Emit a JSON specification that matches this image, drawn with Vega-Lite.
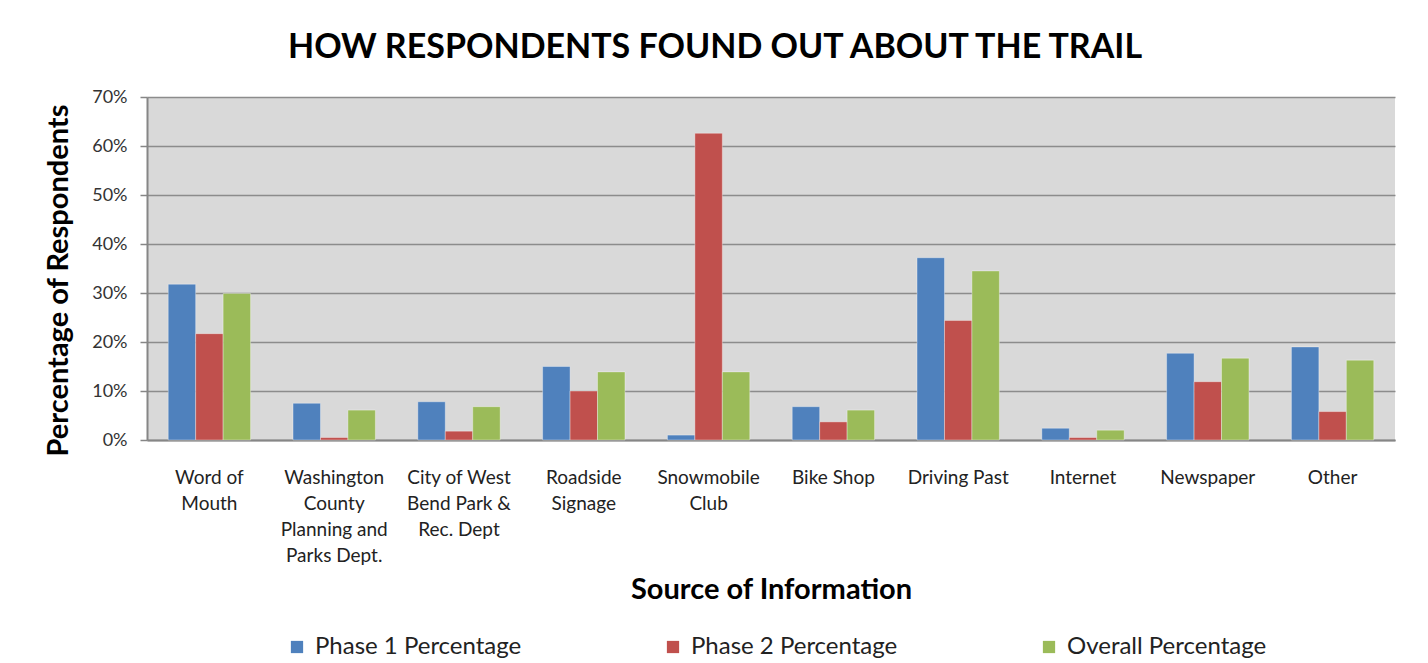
{
  "$schema": "https://vega.github.io/schema/vega-lite/v6.json",
  "width": 1248,
  "height": 343,
  "autosize": {"type": "none"},
  "padding": {"left": 147, "top": 97, "right": 33, "bottom": 223},
  "background": "white",
  "title": {
    "text": "HOW RESPONDENTS FOUND OUT ABOUT THE TRAIL",
    "font": "Lato",
    "fontSize": 34,
    "fontWeight": "bold",
    "color": "#000000",
    "anchor": "middle",
    "dx": -56,
    "offset": 23
  },
  "data": {
    "values": [
      {"source": "Word of Mouth", "series": "Phase 1 Percentage", "pct": 0.318},
      {"source": "Word of Mouth", "series": "Phase 2 Percentage", "pct": 0.217},
      {"source": "Word of Mouth", "series": "Overall Percentage", "pct": 0.299},
      {"source": "Washington County Planning and Parks Dept.", "series": "Phase 1 Percentage", "pct": 0.075},
      {"source": "Washington County Planning and Parks Dept.", "series": "Phase 2 Percentage", "pct": 0.005},
      {"source": "Washington County Planning and Parks Dept.", "series": "Overall Percentage", "pct": 0.061},
      {"source": "City of West Bend Park & Rec. Dept", "series": "Phase 1 Percentage", "pct": 0.078},
      {"source": "City of West Bend Park & Rec. Dept", "series": "Phase 2 Percentage", "pct": 0.018},
      {"source": "City of West Bend Park & Rec. Dept", "series": "Overall Percentage", "pct": 0.068},
      {"source": "Roadside Signage", "series": "Phase 1 Percentage", "pct": 0.150},
      {"source": "Roadside Signage", "series": "Phase 2 Percentage", "pct": 0.100},
      {"source": "Roadside Signage", "series": "Overall Percentage", "pct": 0.139},
      {"source": "Snowmobile Club", "series": "Phase 1 Percentage", "pct": 0.010},
      {"source": "Snowmobile Club", "series": "Phase 2 Percentage", "pct": 0.626},
      {"source": "Snowmobile Club", "series": "Overall Percentage", "pct": 0.139},
      {"source": "Bike Shop", "series": "Phase 1 Percentage", "pct": 0.068},
      {"source": "Bike Shop", "series": "Phase 2 Percentage", "pct": 0.037},
      {"source": "Bike Shop", "series": "Overall Percentage", "pct": 0.061},
      {"source": "Driving Past", "series": "Phase 1 Percentage", "pct": 0.372},
      {"source": "Driving Past", "series": "Phase 2 Percentage", "pct": 0.244},
      {"source": "Driving Past", "series": "Overall Percentage", "pct": 0.345},
      {"source": "Internet", "series": "Phase 1 Percentage", "pct": 0.024},
      {"source": "Internet", "series": "Phase 2 Percentage", "pct": 0.005},
      {"source": "Internet", "series": "Overall Percentage", "pct": 0.020},
      {"source": "Newspaper", "series": "Phase 1 Percentage", "pct": 0.177},
      {"source": "Newspaper", "series": "Phase 2 Percentage", "pct": 0.119},
      {"source": "Newspaper", "series": "Overall Percentage", "pct": 0.167},
      {"source": "Other", "series": "Phase 1 Percentage", "pct": 0.190},
      {"source": "Other", "series": "Phase 2 Percentage", "pct": 0.058},
      {"source": "Other", "series": "Overall Percentage", "pct": 0.163}
    ]
  },
  "mark": {"type": "bar", "stroke": "#ffffff", "strokeOpacity": 0.35, "strokeWidth": 1},
  "encoding": {
    "x": {
      "field": "source",
      "type": "nominal",
      "sort": null,
      "scale": {"paddingInner": 0.34, "paddingOuter": 0.17},
      "axis": {
        "title": "Source of Information",
        "titleFont": "Lato",
        "titleFontSize": 29,
        "titleFontWeight": "bold",
        "titleColor": "#000000",
        "titleY": 149,
        "titleBaseline": "middle",
        "labelAngle": 0,
        "labelFont": "Lato",
        "labelFontSize": 19,
        "labelColor": "#222222",
        "labelLineHeight": 26,
        "labelBaseline": "top",
        "labelPadding": 28,
        "labelLimit": 0,
        "ticks": false,
        "domainColor": "#868686",
        "domainWidth": 2,
        "labelExpr": "{'Word of Mouth':['Word of','Mouth'],'Washington County Planning and Parks Dept.':['Washington','County','Planning and','Parks Dept.'],'City of West Bend Park & Rec. Dept':['City of West','Bend Park &','Rec. Dept'],'Roadside Signage':['Roadside','Signage'],'Snowmobile Club':['Snowmobile','Club']}[datum.label] || datum.label"
      }
    },
    "xOffset": {
      "field": "series",
      "type": "nominal",
      "sort": ["Phase 1 Percentage", "Phase 2 Percentage", "Overall Percentage"]
    },
    "y": {
      "field": "pct",
      "type": "quantitative",
      "scale": {"domain": [0, 0.7]},
      "axis": {
        "title": "Percentage of Respondents",
        "titleFont": "Lato",
        "titleFontSize": 29,
        "titleFontWeight": "bold",
        "titleColor": "#000000",
        "titleX": -89,
        "titleY": 183,
        "titleAlign": "center",
        "titleBaseline": "middle",
        "titleAngle": 270,
        "format": ".0%",
        "values": [0, 0.1, 0.2, 0.3, 0.4, 0.5, 0.6, 0.7],
        "labelFont": "Lato",
        "labelFontSize": 18,
        "labelColor": "#333333",
        "labelPadding": 13,
        "tickSize": 7,
        "tickColor": "#868686",
        "tickWidth": 1.5,
        "domainColor": "#868686",
        "domainWidth": 2,
        "grid": true,
        "gridColor": "#8c8c8c",
        "gridWidth": 1.5
      }
    },
    "color": {
      "field": "series",
      "type": "nominal",
      "scale": {
        "domain": ["Phase 1 Percentage", "Phase 2 Percentage", "Overall Percentage"],
        "range": ["#4f81bd", "#c0504d", "#9bbb59"]
      },
      "legend": {
        "title": null,
        "orient": "none",
        "legendX": 138,
        "legendY": 538,
        "direction": "horizontal",
        "symbolType": "square",
        "symbolSize": 150,
        "symbolStrokeWidth": 0,
        "labelFont": "Lato",
        "labelFontSize": 24,
        "labelOffset": 6,
        "labelColor": "#222222",
        "labelLimit": 0,
        "columnPadding": 139
      }
    }
  },
  "config": {
    "view": {"fill": "#d9d9d9", "stroke": null}
  }
}
